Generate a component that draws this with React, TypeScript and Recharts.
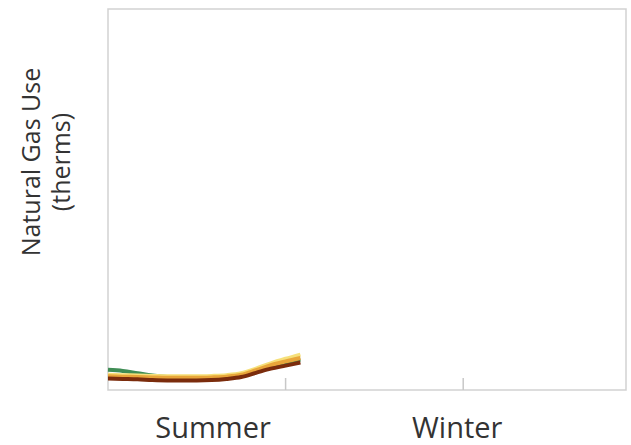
import { LineChart, Line, XAxis, YAxis, ReferenceArea } from 'recharts';

// months into the year (x) and gas use per household type (y, 0-100 scale)
const months = [0, 1, 2, 3, 4, 5, 6, 7, 8, 9, 10, 11, 12, 13];
const greenUse = [5.3, 5.0, 4.4, 3.8, 3.4, 3.3, 3.3, 3.4, 3.6, 4.0, 5.0, 6.2, 7.2, 8.0];
const yellowUse = [4.0, 3.9, 3.8, 3.7, 3.6, 3.6, 3.6, 3.7, 3.9, 4.4, 5.6, 7.0, 8.2, 9.3];
const orangeUse = [3.6, 3.5, 3.4, 3.3, 3.2, 3.2, 3.2, 3.3, 3.5, 4.0, 5.2, 6.5, 7.5, 8.4];
const brownUse = [3.0, 2.9, 2.8, 2.6, 2.5, 2.5, 2.5, 2.6, 2.9, 3.4, 4.5, 5.6, 6.4, 7.2];

const tickMarks = [12, 24];
const seasonLabels = [
  { value: 7.1, label: 'Summer' },
  { value: 23.6, label: 'Winter' },
];

const data = months.map((m, i) => ({
  month: m,
  green: greenUse[i],
  yellow: yellowUse[i],
  orange: orangeUse[i],
  brown: brownUse[i],
}));

const FONT = '"Open Sans", sans-serif';

function SeasonTick(props: any) {
  const { x, y, payload } = props;
  const season = seasonLabels.find((s) => s.value === payload.value);
  if (season) {
    return (
      <text x={x} y={y + 48} textAnchor="middle" fontSize={29} fill="#333" fontFamily={FONT}>
        {season.label}
      </text>
    );
  }
  return <line x1={x} x2={x} y1={y - 12} y2={y} stroke="#c8c8c8" strokeWidth={1.5} />;
}

function YTitle(props: any) {
  const cy = 162;
  return (
    <g>
      <text transform={`translate(40, ${cy}) rotate(-90)`} textAnchor="middle" fontSize={25} fill="#333" fontFamily={FONT}>
        Natural Gas Use
      </text>
      <text transform={`translate(70, ${cy}) rotate(-90)`} textAnchor="middle" fontSize={25} fill="#333" fontFamily={FONT}>
        (therms)
      </text>
    </g>
  );
}

export default function App() {
  return (
    <div style={{ position: 'absolute', left: 0, top: 0, background: '#fff' }}>
      <LineChart width={631} height={445} data={data} margin={{ top: 9, right: 5, bottom: 0, left: 0 }}>
        <ReferenceArea x1={0} x2={35} y1={0} y2={100} fill="none" stroke="#d2d2d2" strokeWidth={1.5} />
        <XAxis
          dataKey="month"
          type="number"
          domain={[0, 35]}
          ticks={[...tickMarks, ...seasonLabels.map((s) => s.value)]}
          interval={0}
          height={55}
          axisLine={false}
          tickLine={false}
          tickSize={0}
          tickMargin={0}
          tick={<SeasonTick />}
        />
        <YAxis
          type="number"
          domain={[0, 100]}
          width={108}
          axisLine={false}
          tickLine={false}
          tick={false}
          label={{ content: <YTitle /> }}
        />
        <Line type="monotone" dataKey="green" stroke="#3f8d55" strokeWidth={4} dot={false} isAnimationActive={false} />
        <Line type="monotone" dataKey="yellow" stroke="#f6e07a" strokeWidth={4} dot={false} isAnimationActive={false} />
        <Line type="monotone" dataKey="orange" stroke="#e8a53a" strokeWidth={4} dot={false} isAnimationActive={false} />
        <Line type="monotone" dataKey="brown" stroke="#7b2c0c" strokeWidth={4} dot={false} isAnimationActive={false} />
      </LineChart>
    </div>
  );
}
